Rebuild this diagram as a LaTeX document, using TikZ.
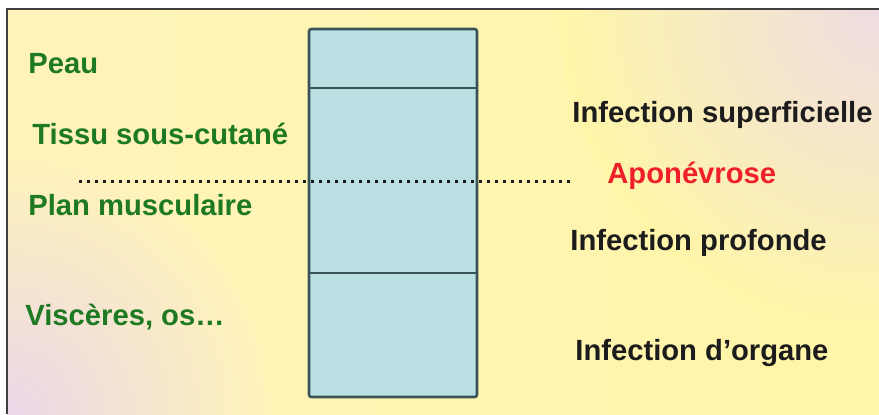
\documentclass[tikz,border=0pt]{standalone}
\usepackage{fontspec}
\setmainfont{Liberation Sans}
\usetikzlibrary{positioning}
\definecolor{bgyellow}{HTML}{FFF6A8}
\definecolor{bgpale}{HTML}{FFF3BA}
\definecolor{bgpink}{HTML}{EFDCE2}
\definecolor{bglilac}{HTML}{EAD6E8}
\definecolor{layerfill}{HTML}{B9DFE3}
\definecolor{layeredge}{HTML}{3A5455}
\definecolor{tissuegreen}{HTML}{1E7A22}
\definecolor{fasciared}{HTML}{F0202A}
\definecolor{inktext}{HTML}{1C1C1C}
\tikzset{layer/.style={draw=layeredge, fill=layerfill, line width=1.3pt, rounded corners=1.2pt}, cut/.style={draw=layeredge, line width=1.3pt}, tissue/.style={font=\bfseries\fontsize{14.6}{17}\selectfont, text=tissuegreen, anchor=base west, inner sep=0pt}, infect/.style={font=\bfseries\fontsize{14.6}{17}\selectfont, text=inktext, anchor=base west, inner sep=0pt}, fascialab/.style={infect, text=fasciared}, fascia/.style={dash pattern=on 1.5pt off 2.5pt, line width=1.5pt, color=inktext}}
\begin{document}
\begin{tikzpicture}[x=0.5pt,y=-0.5pt]
\useasboundingbox (0,0) rectangle (879,414);
\fill[white] (0,0) rectangle (879,414);
\begin{scope}
\clip (7,9) rectangle (879,414);
\shade[left color=bgpale, right color=bgyellow] (7,9) rectangle (879,414);
\shade[inner color=bgpink, outer color=bgyellow] (879,9) circle (320);
\shade[inner color=bglilac, outer color=bgpale] (7,414) circle (260);
\end{scope}
\draw[line width=1pt, color=black!75] (7,414) -- (7,9) -- (879,9);
% colonne des plans
\coordinate (col-nw) at (309,29); \coordinate (col-se) at (477,397);
\draw[layer] (col-nw) rectangle (col-se);
\coordinate (skin-w) at (309,88); \coordinate (skin-e) at (477,88);
\coordinate (deep-w) at (309,273); \coordinate (deep-e) at (477,273);
\draw[cut] (skin-w) -- (skin-e); \draw[cut] (deep-w) -- (deep-e);
\coordinate (apo-w) at (79,181); \coordinate (apo-e) at (570,181);
\draw[fascia] (apo-w) -- (apo-e);
% plans anatomiques
\node[tissue] (peau) at (28,73) {Peau};
\node[tissue] (tissu) at (32,144) {Tissu sous-cutané};
\node[tissue] (muscle) at (28,215) {Plan musculaire};
\node[tissue] (viscere) at (25,325) {Viscères, os…};
% niveaux d'infection
\node[infect] (superf) at (572,122) {Infection superficielle};
\node[fascialab] (apon) at (607,183) {Aponévrose};
\node[infect] (profonde) at (570,250) {Infection profonde};
\node[infect] (organe) at (575,360) {Infection d’organe};
\end{tikzpicture}
\end{document}
